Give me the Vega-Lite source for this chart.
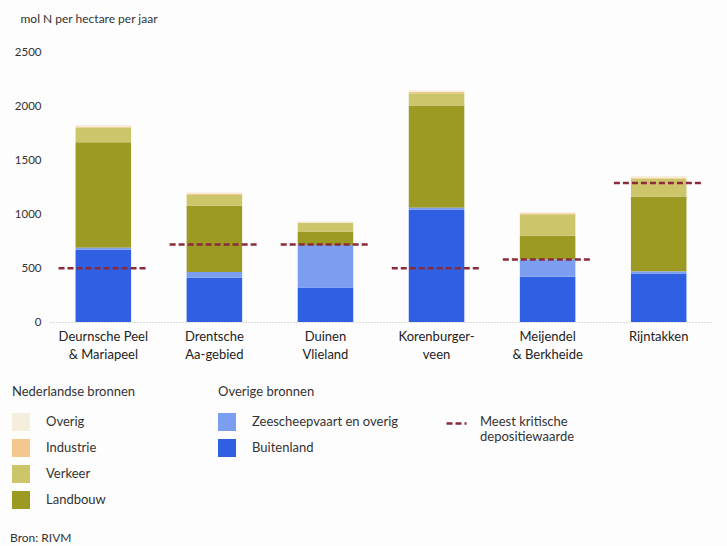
{
  "$schema": "https://vega.github.io/schema/vega-lite/v6.json",
  "autosize": {"type": "none"},
  "width": 662,
  "height": 280,
  "padding": {"left": 50, "top": 42, "right": 15, "bottom": 224},
  "background": "#fdfdfd",
  "config": {
    "font": "Lato",
    "view": {"stroke": null},
    "legend": {
      "orient": "none",
      "symbolType": "square",
      "symbolSize": 324,
      "symbolStrokeWidth": 0,
      "labelFontSize": 13,
      "labelColor": "#333",
      "titleFontSize": 13,
      "titleFontWeight": "normal",
      "titleColor": "#333",
      "titlePadding": 14,
      "rowPadding": 8,
      "labelOffset": 16
    }
  },
  "title": {
    "text": "Bron: RIVM",
    "orient": "bottom",
    "anchor": "start",
    "frame": "group",
    "fontSize": 12,
    "fontWeight": "normal",
    "color": "#333",
    "dx": -40,
    "offset": 24
  },
  "data": {
    "values": [
      {"gebied": "Deurnsche Peel & Mariapeel", "bron": "Buitenland", "groep": "Overige bronnen", "volgorde": 1, "waarde": 670},
      {"gebied": "Deurnsche Peel & Mariapeel", "bron": "Zeescheepvaart en overig", "groep": "Overige bronnen", "volgorde": 2, "waarde": 20},
      {"gebied": "Deurnsche Peel & Mariapeel", "bron": "Landbouw", "groep": "Nederlandse bronnen", "volgorde": 3, "waarde": 980},
      {"gebied": "Deurnsche Peel & Mariapeel", "bron": "Verkeer", "groep": "Nederlandse bronnen", "volgorde": 4, "waarde": 135},
      {"gebied": "Deurnsche Peel & Mariapeel", "bron": "Industrie", "groep": "Nederlandse bronnen", "volgorde": 5, "waarde": 10},
      {"gebied": "Deurnsche Peel & Mariapeel", "bron": "Overig", "groep": "Nederlandse bronnen", "volgorde": 6, "waarde": 15},
      {"gebied": "Drentsche Aa-gebied", "bron": "Buitenland", "groep": "Overige bronnen", "volgorde": 1, "waarde": 410},
      {"gebied": "Drentsche Aa-gebied", "bron": "Zeescheepvaart en overig", "groep": "Overige bronnen", "volgorde": 2, "waarde": 55},
      {"gebied": "Drentsche Aa-gebied", "bron": "Landbouw", "groep": "Nederlandse bronnen", "volgorde": 3, "waarde": 615},
      {"gebied": "Drentsche Aa-gebied", "bron": "Verkeer", "groep": "Nederlandse bronnen", "volgorde": 4, "waarde": 100},
      {"gebied": "Drentsche Aa-gebied", "bron": "Industrie", "groep": "Nederlandse bronnen", "volgorde": 5, "waarde": 10},
      {"gebied": "Drentsche Aa-gebied", "bron": "Overig", "groep": "Nederlandse bronnen", "volgorde": 6, "waarde": 15},
      {"gebied": "Duinen Vlieland", "bron": "Buitenland", "groep": "Overige bronnen", "volgorde": 1, "waarde": 320},
      {"gebied": "Duinen Vlieland", "bron": "Zeescheepvaart en overig", "groep": "Overige bronnen", "volgorde": 2, "waarde": 395},
      {"gebied": "Duinen Vlieland", "bron": "Landbouw", "groep": "Nederlandse bronnen", "volgorde": 3, "waarde": 125},
      {"gebied": "Duinen Vlieland", "bron": "Verkeer", "groep": "Nederlandse bronnen", "volgorde": 4, "waarde": 80},
      {"gebied": "Duinen Vlieland", "bron": "Industrie", "groep": "Nederlandse bronnen", "volgorde": 5, "waarde": 5},
      {"gebied": "Duinen Vlieland", "bron": "Overig", "groep": "Nederlandse bronnen", "volgorde": 6, "waarde": 10},
      {"gebied": "Korenburgerveen", "bron": "Buitenland", "groep": "Overige bronnen", "volgorde": 1, "waarde": 1045},
      {"gebied": "Korenburgerveen", "bron": "Zeescheepvaart en overig", "groep": "Overige bronnen", "volgorde": 2, "waarde": 15},
      {"gebied": "Korenburgerveen", "bron": "Landbouw", "groep": "Nederlandse bronnen", "volgorde": 3, "waarde": 950},
      {"gebied": "Korenburgerveen", "bron": "Verkeer", "groep": "Nederlandse bronnen", "volgorde": 4, "waarde": 115},
      {"gebied": "Korenburgerveen", "bron": "Industrie", "groep": "Nederlandse bronnen", "volgorde": 5, "waarde": 10},
      {"gebied": "Korenburgerveen", "bron": "Overig", "groep": "Nederlandse bronnen", "volgorde": 6, "waarde": 15},
      {"gebied": "Meijendel & Berkheide", "bron": "Buitenland", "groep": "Overige bronnen", "volgorde": 1, "waarde": 420},
      {"gebied": "Meijendel & Berkheide", "bron": "Zeescheepvaart en overig", "groep": "Overige bronnen", "volgorde": 2, "waarde": 160},
      {"gebied": "Meijendel & Berkheide", "bron": "Landbouw", "groep": "Nederlandse bronnen", "volgorde": 3, "waarde": 220},
      {"gebied": "Meijendel & Berkheide", "bron": "Verkeer", "groep": "Nederlandse bronnen", "volgorde": 4, "waarde": 200},
      {"gebied": "Meijendel & Berkheide", "bron": "Industrie", "groep": "Nederlandse bronnen", "volgorde": 5, "waarde": 10},
      {"gebied": "Meijendel & Berkheide", "bron": "Overig", "groep": "Nederlandse bronnen", "volgorde": 6, "waarde": 10},
      {"gebied": "Rijntakken", "bron": "Buitenland", "groep": "Overige bronnen", "volgorde": 1, "waarde": 450},
      {"gebied": "Rijntakken", "bron": "Zeescheepvaart en overig", "groep": "Overige bronnen", "volgorde": 2, "waarde": 20},
      {"gebied": "Rijntakken", "bron": "Landbouw", "groep": "Nederlandse bronnen", "volgorde": 3, "waarde": 695},
      {"gebied": "Rijntakken", "bron": "Verkeer", "groep": "Nederlandse bronnen", "volgorde": 4, "waarde": 165},
      {"gebied": "Rijntakken", "bron": "Industrie", "groep": "Nederlandse bronnen", "volgorde": 5, "waarde": 10},
      {"gebied": "Rijntakken", "bron": "Overig", "groep": "Nederlandse bronnen", "volgorde": 6, "waarde": 15}
    ]
  },
  "transform": [
    {"stack": "waarde", "groupby": ["gebied"], "sort": [{"field": "volgorde", "order": "ascending"}], "as": ["onder", "boven"]}
  ],
  "encoding": {
    "x": {
      "field": "gebied",
      "type": "nominal",
      "sort": null,
      "title": null,
      "scale": {"paddingInner": 0.5, "paddingOuter": 0.23},
      "axis": {
        "labelAngle": 0,
        "ticks": false,
        "domainColor": "#bbbbbb",
        "domainDash": [1, 2],
        "domainWidth": 1,
        "labelFontSize": 13,
        "labelColor": "#222",
        "labelPadding": 8,
        "labelLineHeight": 18,
        "labelBaseline": "top",
        "labelExpr": "({'Deurnsche Peel & Mariapeel': ['Deurnsche Peel', '& Mariapeel'], 'Drentsche Aa-gebied': ['Drentsche', 'Aa-gebied'], 'Duinen Vlieland': ['Duinen', 'Vlieland'], 'Korenburgerveen': ['Korenburger-', 'veen'], 'Meijendel & Berkheide': ['Meijendel', '& Berkheide'], 'Rijntakken': ['Rijntakken']})[datum.label]"
      }
    }
  },
  "layer": [
    {
      "transform": [{"filter": "datum.groep == 'Nederlandse bronnen'"}],
      "mark": {"type": "bar"},
      "encoding": {
        "y": {
          "field": "onder",
          "type": "quantitative",
          "scale": {"domain": [0, 2500]},
          "axis": {
            "values": [0, 500, 1000, 1500, 2000, 2500],
            "format": "d",
            "grid": false,
            "domain": false,
            "ticks": false,
            "labelFontSize": 11.5,
            "labelColor": "#333",
            "labelPadding": 9,
            "title": "mol N per hectare per jaar",
            "titleAngle": 0,
            "titleAlign": "left",
            "titleBaseline": "middle",
            "titleX": -30,
            "titleY": -24,
            "titleFontSize": 12,
            "titleFontWeight": "normal",
            "titleColor": "#333"
          }
        },
        "y2": {"field": "boven"},
        "color": {
          "field": "bron",
          "type": "nominal",
          "scale": {
            "domain": ["Overig", "Industrie", "Verkeer", "Landbouw"],
            "range": ["#f6eedc", "#f3c88f", "#cdc56a", "#9c9a22"]
          },
          "legend": {"title": "Nederlandse bronnen", "legendX": -38, "legendY": 344}
        }
      }
    },
    {
      "transform": [{"filter": "datum.groep == 'Overige bronnen'"}],
      "mark": {"type": "bar"},
      "encoding": {
        "y": {"field": "onder", "type": "quantitative"},
        "y2": {"field": "boven"},
        "fill": {
          "field": "bron",
          "type": "nominal",
          "scale": {
            "domain": ["Zeescheepvaart en overig", "Buitenland"],
            "range": ["#7b9ef0", "#2f5fe3"]
          },
          "legend": {"title": "Overige bronnen", "legendX": 168, "legendY": 344}
        }
      }
    },
    {
      "data": {
        "values": [
          {"gebied": "Deurnsche Peel & Mariapeel", "kritisch": 500},
          {"gebied": "Drentsche Aa-gebied", "kritisch": 720},
          {"gebied": "Duinen Vlieland", "kritisch": 720},
          {"gebied": "Korenburgerveen", "kritisch": 500},
          {"gebied": "Meijendel & Berkheide", "kritisch": 580},
          {"gebied": "Rijntakken", "kritisch": 1290}
        ]
      },
      "mark": {"type": "rule", "color": "#8b2a3a", "strokeWidth": 2.5, "xOffset": -17, "x2Offset": 17},
      "encoding": {
        "x": {"field": "gebied", "type": "nominal", "sort": null, "bandPosition": 0},
        "x2": {"field": "gebied", "bandPosition": 1},
        "y": {"field": "kritisch", "type": "quantitative"},
        "strokeDash": {
          "datum": "Meest kritische depositiewaarde",
          "scale": {"range": [[6, 3]]},
          "legend": {
            "title": null,
            "legendX": 395,
            "legendY": 370,
            "symbolType": "stroke",
            "symbolSize": 400,
            "symbolStrokeWidth": 2.5,
            "symbolStrokeColor": "#8b2a3a",
            "labelExpr": "['Meest kritische', 'depositiewaarde']",
            "labelBaseline": "top",
            "labelLineHeight": 18,
            "labelOffset": 12,
            "encode": {"labels": {"update": {"dy": {"value": -8}}}}
          }
        }
      }
    }
  ]
}
